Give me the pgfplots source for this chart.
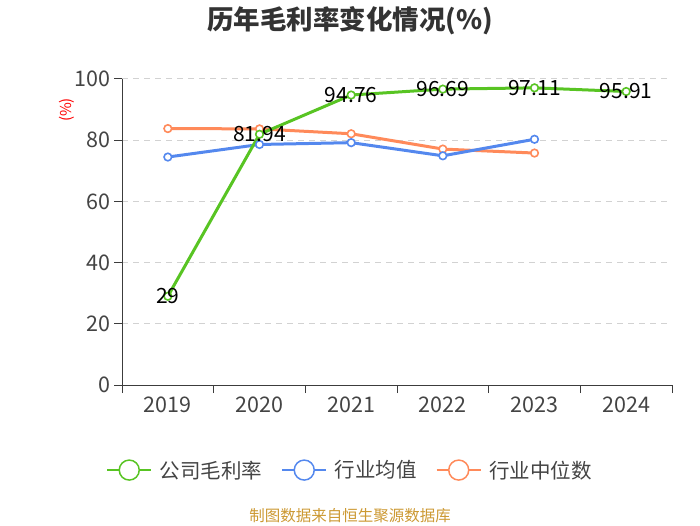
\documentclass[border=0pt]{standalone}
\usepackage{pgfplots}
\pgfplotsset{compat=1.18}
\usepackage{fontspec}
\setmainfont{Noto Sans CJK SC}
\definecolor{cgreen}{RGB}{88,196,35}
\definecolor{cblue}{RGB}{84,136,238}
\definecolor{corange}{RGB}{255,138,90}
\definecolor{ctick}{RGB}{68,68,68}
\definecolor{caxis}{RGB}{60,60,60}
\definecolor{cgrid}{RGB}{210,210,210}
\definecolor{ctitle}{RGB}{51,51,51}
\definecolor{cfoot}{RGB}{204,153,51}
\pgfplotstableread{
x y label
0 29 29
1 81.94 81.94
2 94.76 94.76
3 96.69 96.69
4 97.11 97.11
5 95.91 95.91
}\company
\pgfplotstableread{
x y
0 74.5
1 78.6
2 79.2
3 74.9
4 80.3
}\indavg
\pgfplotstableread{
x y
0 83.8
1 83.7
2 82.1
3 77.1
4 75.8
}\indmed
\begin{document}
\begin{tikzpicture}[x=1pt,y=1pt]
\path[use as bounding box] (0,0) rectangle (700,525);
\node[font=\fontsize{26.5}{30}\selectfont\bfseries, text=ctitle] at (350,504) {历年毛利率变化情况(\%)};
\node[rotate=90, text=red, font=\fontsize{15}{17}\selectfont] at (67,415) {(\%)};
\node[text=cfoot, font=\fontsize{15.5}{18}\selectfont] at (350,9) {制图数据来自恒生聚源数据库};
\begin{axis}[
  at={(122pt,140pt)}, anchor=south west,
  scale only axis, width=550pt, height=306pt,
  xmin=-0.5, xmax=5.5, ymin=0, ymax=100,
  xtick={-0.5,0.5,...,5.5},
  x tick label as interval,
  xticklabels={2019,2020,2021,2022,2023,2024},
  ytick={0,20,...,100},
  axis x line*=bottom, axis y line*=left,
  axis line style={draw=caxis, line width=1pt},
  tick align=outside, major tick length=8pt,
  tick style={draw=caxis, line width=1pt},
  ymajorgrids,
  grid style={dashed, cgrid, line width=1pt, dash pattern=on 6pt off 5pt},
  tick label style={font=\fontsize{21.5}{24}\selectfont, text=ctick},
  /pgf/number format/assume math mode=true,
  legend style={at={(0.415,-0.278)}, anchor=center, draw=none, fill=none,
    legend columns=3, font=\fontsize{20.5}{24}\selectfont, text=ctick,
    /tikz/every odd column/.append style={column sep=6pt},
    /tikz/every even column/.append style={column sep=17pt}},
  clip=false,
]
\addlegendimage{legend image code/.code={\draw[cgreen,line width=1.5pt] (0pt,0pt) -- (44pt,0pt); \draw[cgreen,line width=1.5pt,fill=white] (22pt,0pt) circle (10pt);}}
\addlegendentry{公司毛利率}
\addlegendimage{legend image code/.code={\draw[cblue,line width=1.5pt] (0pt,0pt) -- (44pt,0pt); \draw[cblue,line width=1.5pt,fill=white] (22pt,0pt) circle (10pt);}}
\addlegendentry{行业均值}
\addlegendimage{legend image code/.code={\draw[corange,line width=1.5pt] (0pt,0pt) -- (44pt,0pt); \draw[corange,line width=1.5pt,fill=white] (22pt,0pt) circle (10pt);}}
\addlegendentry{行业中位数}
\addplot[forget plot, corange, line width=3pt, mark=*, mark size=3.8pt, mark options={fill=white, line width=1.6pt}] table[x=x,y=y] {\indmed};
\addplot[forget plot, cblue, line width=3pt, mark=*, mark size=3.8pt, mark options={fill=white, line width=1.6pt}] table[x=x,y=y] {\indavg};
\addplot[forget plot, cgreen, line width=3pt, mark=*, mark size=3.8pt, mark options={fill=white, line width=1.6pt},
  nodes near coords, point meta=explicit symbolic,
  every node near coord/.append style={anchor=center, text=black, font=\fontsize{21}{24}\selectfont}]
  table[x=x,y=y,meta=label] {\company};
\end{axis}
\end{tikzpicture}
\end{document}
